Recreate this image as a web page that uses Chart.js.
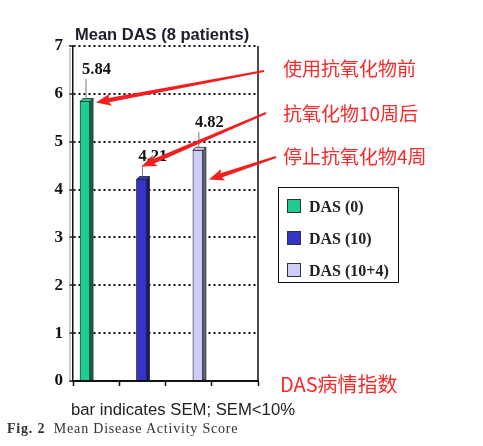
<!DOCTYPE html>
<html>
<head>
    <title>Mean DAS</title>
    <script src="https://cdn.jsdelivr.net/npm/chart.js@4.4.1/dist/chart.umd.min.js"></script>
    <style>
        body {
            margin: 0;
            background: #fff;
            width: 483px;
            height: 446px;
            position: relative;
            overflow: hidden;
        }
        #chart {
            position: absolute;
            left: 0;
            top: 0;
        }
        .txt {
            position: absolute;
            white-space: nowrap;
            line-height: 1;
        }
        #title {
            left: 75px;
            top: 25px;
            font: bold 16.5px "Liberation Sans", Arial, sans-serif;
            color: #1c1c2a;
        }
        .note {
            font-family: "Noto Sans CJK SC", sans-serif;
            font-size: 19px;
            color: #f52a2a;
        }
        #legend {
            position: absolute;
            left: 278px;
            top: 187px;
            width: 119px;
            height: 94px;
            border: 1.5px solid #111;
            font: bold 16px "Liberation Serif", "Times New Roman", serif;
            color: #222;
        }
        .item {
            position: absolute;
            left: 8px;
            height: 16px;
            line-height: 16px;
        }
        .swatch {
            display: inline-block;
            width: 12px;
            height: 12px;
            border: 1px solid #333;
            vertical-align: -1px;
            margin-right: 8px;
        }
        #sem {
            left: 71px;
            top: 400px;
            font: 16.7px "Liberation Sans", Arial, sans-serif;
            color: #222;
        }
        #fig {
            left: 7px;
            top: 421px;
            font: 14px "Liberation Serif", "Times New Roman", serif;
            letter-spacing: 0.8px;
            color: #333;
        }
    </style>
</head>
<body>
    <canvas id="chart" width="483" height="446"></canvas>

    <div id="title" class="txt">Mean DAS (8 patients)</div>
    <div class="txt note" style="left:283px; top:58px;">使用抗氧化物前</div>
    <div class="txt note" style="left:283px; top:103px;">抗氧化物10周后</div>
    <div class="txt note" style="left:283px; top:146px;">停止抗氧化物4周</div>
    <div class="txt note" style="left:280px; top:374px; font-size:20px;">DAS病情指数</div>
    <div id="legend"></div>
    <div id="sem" class="txt">bar indicates SEM; SEM&lt;10%</div>
    <div id="fig" class="txt"><b>Fig. 2</b>&nbsp; Mean Disease Activity Score</div>

    <script>
        // values
        const groups = ['DAS (0)', 'DAS (10)', 'DAS (10+4)'];
        const meanDas = [5.84, 4.21, 4.82];
        const semDas = [0.47, 0.29, 0.38];
        const yTicks = [0, 1, 2, 3, 4, 5, 6, 7];

        const fills = ['#1fcb8e', '#3434c8', '#cdcdf7'];
        const sides = ['#0e6e4c', '#1a1a70', '#6a6a8e'];

        // where each bar stands on the (hidden) x scale
        function barX(i) { return 0.26 + 1.22 * i; }

        // legend (html)
        const legend = document.getElementById('legend');
        groups.forEach((g, i) => {
            const div = document.createElement('div');
            div.className = 'item';
            div.style.top = (11 + i * 32) + 'px';
            div.innerHTML = '<span class="swatch" style="background:' + fills[i] + '"></span>' + g;
            legend.appendChild(div);
        });

        // 3D side + top faces, error bars and value labels
        const barDecor = {
            id: 'barDecor',
            afterDatasetsDraw(chart) {
                const ctx = chart.ctx;
                const y = chart.scales.y;
                chart.data.datasets.forEach((ds, i) => {
                    const bar = chart.getDatasetMeta(i).data[0];
                    const half = bar.width / 2;
                    const l = bar.x - half, r = bar.x + half, t = bar.y, b = bar.base;
                    const d = 3;
                    ctx.save();
                    ctx.fillStyle = sides[i];
                    ctx.strokeStyle = '#222';
                    ctx.lineWidth = 0.8;
                    ctx.beginPath();
                    ctx.moveTo(r, t); ctx.lineTo(r + d, t - d); ctx.lineTo(r + d, b); ctx.lineTo(r, b);
                    ctx.closePath(); ctx.fill(); ctx.stroke();
                    ctx.fillStyle = fills[i];
                    ctx.beginPath();
                    ctx.moveTo(l, t); ctx.lineTo(l + d, t - d); ctx.lineTo(r + d, t - d); ctx.lineTo(r, t);
                    ctx.closePath(); ctx.fill(); ctx.stroke();

                    // error bar (upward only)
                    const top = y.getPixelForValue(meanDas[i] + semDas[i]);
                    ctx.strokeStyle = '#777';
                    ctx.lineWidth = 1;
                    ctx.beginPath();
                    ctx.moveTo(bar.x + 1, t - d);
                    ctx.lineTo(bar.x + 1, top);
                    ctx.stroke();

                    ctx.fillStyle = '#111';
                    ctx.font = 'bold 16.5px "Liberation Serif", serif';
                    ctx.textAlign = 'left';
                    ctx.textBaseline = 'bottom';
                    ctx.fillText(meanDas[i].toFixed(2), bar.x - 3, top - 1);
                    ctx.restore();
                });
            }
        };

        // right frame line, left wall and red arrows
        const frame = {
            id: 'frame',
            afterDraw(chart) {
                const ctx = chart.ctx;
                const a = chart.chartArea;
                ctx.save();
                ctx.strokeStyle = '#111';
                ctx.lineWidth = 1.5;
                ctx.beginPath();
                ctx.moveTo(a.right, a.top); ctx.lineTo(a.right, a.bottom);
                ctx.stroke();
                ctx.strokeStyle = '#999';
                ctx.lineWidth = 1;
                ctx.beginPath();
                ctx.moveTo(a.left - 3, a.top + 2); ctx.lineTo(a.left - 3, a.bottom);
                ctx.stroke();

                const y = chart.scales.y;
                const bars = [0, 1, 2].map(i => chart.getDatasetMeta(i).data[0]);
                const arrows = [
                    { from: [264, 71], to: [bars[0].x + bars[0].width / 2 + 6, y.getPixelForValue(meanDas[0]) + 1] },
                    { from: [266, 113], to: [bars[1].x, y.getPixelForValue(meanDas[1]) - 13] },
                    { from: [276, 157], to: [bars[2].x + bars[2].width / 2 + 6, y.getPixelForValue(meanDas[1])] }
                ];
                ctx.fillStyle = '#f02020';
                arrows.forEach(ar => {
                    const [x1, y1] = ar.from, [x2, y2] = ar.to;
                    const ang = Math.atan2(y2 - y1, x2 - x1);
                    const len = Math.hypot(x2 - x1, y2 - y1);
                    ctx.save();
                    ctx.translate(x1, y1);
                    ctx.rotate(ang);
                    ctx.beginPath();
                    ctx.moveTo(0, -1);
                    ctx.lineTo(len - 13, -2.2);
                    ctx.lineTo(len - 15, -6);
                    ctx.lineTo(len, 0);
                    ctx.lineTo(len - 15, 6);
                    ctx.lineTo(len - 13, 2.2);
                    ctx.lineTo(0, 1);
                    ctx.closePath();
                    ctx.fill();
                    ctx.restore();
                });
                ctx.restore();
            }
        };

        new Chart(document.getElementById('chart'), {
            type: 'bar',
            data: {
                datasets: groups.map((g, i) => ({
                    label: g,
                    data: [{ x: barX(i), y: meanDas[i] }],
                    backgroundColor: fills[i],
                    borderColor: '#222',
                    borderWidth: 0.8,
                    barThickness: 10
                }))
            },
            options: {
                responsive: false,
                animation: false,
                grouped: false,
                layout: { padding: { top: 46, right: 225, bottom: 57, left: 0 } },
                plugins: {
                    legend: { display: false },
                    title: { display: false },
                    tooltip: { enabled: false }
                },
                scales: {
                    x: {
                        type: 'linear',
                        min: 0,
                        max: 4,
                        offset: false,
                        ticks: { stepSize: 1, callback: () => '' },
                        grid: {
                            offset: false,
                            drawOnChartArea: false,
                            drawTicks: true,
                            tickLength: 5,
                            tickColor: '#111',
                            tickWidth: 1.5
                        },
                        border: { color: '#111', width: 2 },
                        afterFit(scale) { scale.height = 8; }
                    },
                    y: {
                        min: 0,
                        max: 7,
                        afterBuildTicks(scale) { scale.ticks = yTicks.map(v => ({ value: v })); },
                        ticks: {
                            color: '#111',
                            padding: 6,
                            font: { family: '"Liberation Serif", serif', size: 17, weight: 'bold' }
                        },
                        grid: {
                            color: '#111',
                            lineWidth: 2,
                            tickColor: '#111',
                            tickWidth: 1.5,
                            tickLength: 4
                        },
                        border: { color: '#111', width: 1.5, dash: [2, 3] },
                        afterFit(scale) { scale.width = 73; }
                    }
                }
            },
            plugins: [barDecor, frame]
        });
    </script>
</body>
</html>
